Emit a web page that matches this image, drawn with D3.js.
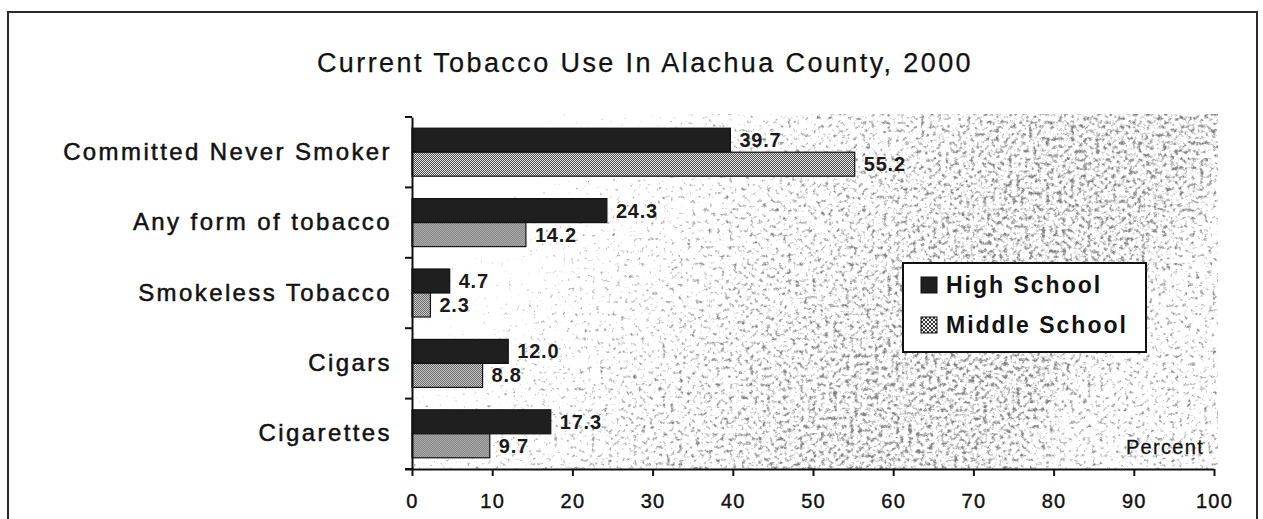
<!DOCTYPE html>
<html>
<head>
<meta charset="utf-8">
<script src="https://cdn.jsdelivr.net/npm/d3@7"></script>
<style>
  html, body { margin: 0; padding: 0; background: #fff; }
  svg { display: block; font-family: "Liberation Sans", Arial, sans-serif; }
</style>
</head>
<body>
<svg id="chart" width="1263" height="519"></svg>
<script>
// Tobacco use categories, top to bottom
const categories = [
  "Committed Never Smoker",
  "Any form of tobacco",
  "Smokeless Tobacco",
  "Cigars",
  "Cigarettes"
];
const seriesNames = ["High School", "Middle School"];
const highSchool = [39.7, 24.3, 4.7, 12.0, 17.3];
const middleSchool = [55.2, 14.2, 2.3, 8.8, 9.7];
const xTicks = [0, 10, 20, 30, 40, 50, 60, 70, 80, 90, 100];
const titleText = "Current Tobacco Use In Alachua County, 2000";
const axisLabel = "Percent";

const rows = categories.map((c, i) => ({
  category: c,
  values: [
    { series: seriesNames[0], value: highSchool[i] },
    { series: seriesNames[1], value: middleSchool[i] }
  ]
}));

const svg = d3.select("#chart");
const plot = { left: 412, right: 1214, top: 117, bottom: 469 };
const FONT = "'Liberation Sans', Arial, sans-serif";

const defs = svg.append("defs");

// fine checkerboard fill for the middle school bars
const chk = defs.append("pattern").attr("id", "checker")
  .attr("patternUnits", "userSpaceOnUse").attr("width", 2).attr("height", 2);
chk.append("rect").attr("width", 2).attr("height", 2).attr("fill", "#e8e8e8");
chk.append("rect").attr("width", 1).attr("height", 1).attr("fill", "#4a4a4a");
chk.append("rect").attr("x", 1).attr("y", 1).attr("width", 1).attr("height", 1).attr("fill", "#4a4a4a");

// coarser checker for the legend swatch
const chk2 = defs.append("pattern").attr("id", "checker2")
  .attr("patternUnits", "userSpaceOnUse").attr("width", 4).attr("height", 4);
chk2.append("rect").attr("width", 4).attr("height", 4).attr("fill", "#eeeeee");
chk2.append("rect").attr("width", 2).attr("height", 2).attr("fill", "#333");
chk2.append("rect").attr("x", 2).attr("y", 2).attr("width", 2).attr("height", 2).attr("fill", "#333");

// speckled plot background: noise thresholded against a density gradient
const grain = defs.append("filter").attr("id", "grain")
  .attr("x", 0).attr("y", 0).attr("width", 1).attr("height", 1)
  .attr("color-interpolation-filters", "sRGB");
grain.append("feTurbulence").attr("type", "fractalNoise")
  .attr("baseFrequency", 0.24).attr("numOctaves", 3).attr("seed", 11).attr("result", "noise");
grain.append("feColorMatrix").attr("in", "noise").attr("type", "matrix")
  .attr("values", "0 0 0 0 0  0 0 0 0 0  0 0 0 0 0  1 0 0 0 0")
  .attr("result", "nalpha");
grain.append("feComposite").attr("in", "nalpha").attr("in2", "SourceGraphic")
  .attr("operator", "arithmetic")
  .attr("k1", 0).attr("k2", 3.4).attr("k3", 2.2).attr("k4", -3.65)
  .attr("result", "speck");
grain.append("feColorMatrix").attr("in", "speck").attr("type", "matrix")
  .attr("values", "0 0 0 0 0.28  0 0 0 0 0.28  0 0 0 0 0.28  0 0 0 0.68 0");

const hg = defs.append("linearGradient").attr("id", "density")
  .attr("x1", 0).attr("x2", 1).attr("y1", 0).attr("y2", 0.3);
[[0, 0.2], [0.15, 0.42], [0.3, 0.64], [0.5, 0.8], [0.75, 0.93], [0.92, 0.93], [1, 0.78]]
  .forEach(([o, a]) => hg.append("stop").attr("offset", o).attr("stop-color", "#000").attr("stop-opacity", a));

// outer frame
svg.append("rect").attr("x", 8).attr("y", 12).attr("width", 1249).attr("height", 530)
  .attr("fill", "none").attr("stroke", "#2a2a2a").attr("stroke-width", 2);

// title
svg.append("text").attr("x", 645).attr("y", 72)
  .attr("text-anchor", "middle").attr("font-size", 27).attr("letter-spacing", 2.4)
  .attr("fill", "#111").attr("stroke", "#111").attr("stroke-width", 0.25).text(titleText);

// scales
const x = d3.scaleLinear().domain([0, 100]).range([plot.left, plot.right]);
const y0 = d3.scaleBand().domain(categories).range([plot.top, plot.bottom]).padding(0);
const y1 = d3.scaleBand().domain(seriesNames).range([0, y0.bandwidth()])
  .paddingInner(0).paddingOuter(0.467);

// background grain
svg.append("rect")
  .attr("x", plot.left).attr("y", plot.top - 3)
  .attr("width", 1218 - plot.left).attr("height", plot.bottom - plot.top + 3)
  .attr("fill", "url(#density)").attr("filter", "url(#grain)");

// bars
const groups = svg.append("g").selectAll("g").data(rows).join("g")
  .attr("transform", d => `translate(0,${y0(d.category)})`);

groups.selectAll("rect").data(d => d.values).join("rect")
  .attr("x", x(0))
  .attr("y", d => y1(d.series))
  .attr("width", d => x(d.value) - x(0))
  .attr("height", y1.bandwidth())
  .attr("fill", d => d.series === seriesNames[0] ? "#1f1f1f" : "url(#checker)")
  .attr("stroke", "#111").attr("stroke-width", 1.2);

// value labels
groups.selectAll("text.val").data(d => d.values).join("text")
  .attr("class", "val")
  .attr("x", d => x(d.value) + 9)
  .attr("y", d => y1(d.series) + y1.bandwidth() / 2 + 7)
  .attr("font-size", 20).attr("font-weight", "bold").attr("letter-spacing", 0.8)
  .attr("fill", "#1a1a1a")
  .text(d => d.value.toFixed(1));

// x axis
const xAxis = svg.append("g").attr("transform", `translate(0,${plot.bottom})`)
  .call(d3.axisBottom(x).tickValues(xTicks).tickSize(7).tickSizeOuter(0).tickPadding(18));
xAxis.select(".domain").attr("stroke", "#111").attr("stroke-width", 2)
  .attr("d", `M${plot.left - 7},0.5H${plot.right}`);
xAxis.selectAll(".tick line").attr("stroke", "#111").attr("stroke-width", 2);
xAxis.selectAll(".tick text").attr("font-size", 20).attr("letter-spacing", 1.2)
  .attr("fill", "#111").attr("font-family", FONT)
  .attr("stroke", "#111").attr("stroke-width", 0.4);

// y axis: category labels and boundary ticks
const yAxis = svg.append("g").attr("transform", `translate(${plot.left},0)`)
  .call(d3.axisLeft(y0).tickSize(0).tickPadding(20));
yAxis.select(".domain").attr("stroke", "#111").attr("stroke-width", 2);
yAxis.selectAll(".tick text").attr("font-size", 24).attr("letter-spacing", 2.4)
  .attr("fill", "#111").attr("font-family", FONT)
  .attr("stroke", "#111").attr("stroke-width", 0.5);

const bounds = categories.map(c => y0(c)).concat([plot.bottom]);
svg.append("g").selectAll("line").data(bounds).join("line")
  .attr("x1", plot.left - 7).attr("x2", plot.left)
  .attr("y1", d => d).attr("y2", d => d)
  .attr("stroke", "#111").attr("stroke-width", 2);

// axis unit label
svg.append("text").attr("x", 1204).attr("y", 454).attr("text-anchor", "end")
  .attr("font-size", 20).attr("letter-spacing", 1.3).attr("fill", "#111")
  .attr("stroke", "#111").attr("stroke-width", 0.3).text(axisLabel);

// legend
const lg = svg.append("g").attr("transform", "translate(903,263)");
lg.append("rect").attr("width", 243).attr("height", 89)
  .attr("fill", "#fff").attr("stroke", "#111").attr("stroke-width", 2);
const li = lg.selectAll("g").data(seriesNames).join("g")
  .attr("transform", (d, i) => `translate(18,${14 + i * 40})`);
li.append("rect").attr("width", 16).attr("height", 16)
  .attr("fill", (d, i) => i === 0 ? "#1f1f1f" : "url(#checker2)")
  .attr("stroke", "#111").attr("stroke-width", 1);
li.append("text").attr("x", 25).attr("y", 16)
  .attr("font-size", 23).attr("font-weight", "bold").attr("letter-spacing", 2)
  .attr("fill", "#111").text(d => d);
</script>
</body>
</html>
